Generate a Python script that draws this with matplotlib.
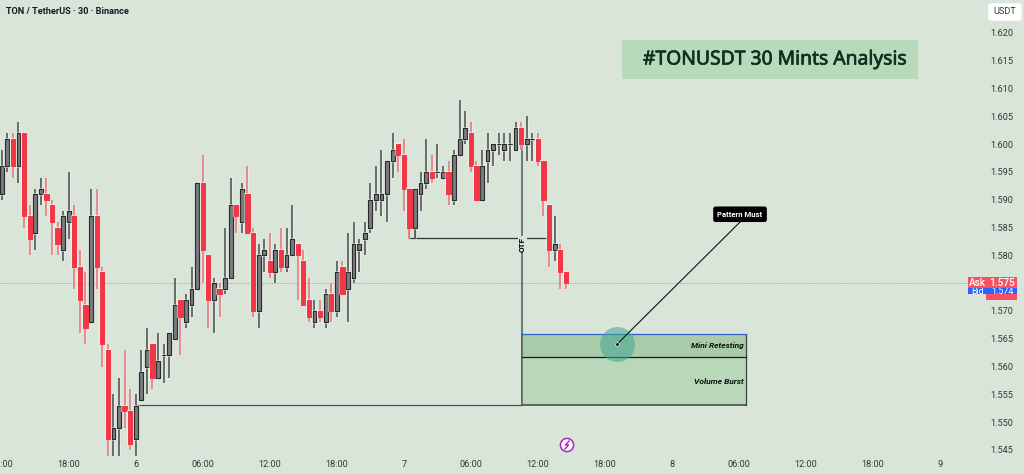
import matplotlib
matplotlib.use("Agg")
import matplotlib.pyplot as plt
import matplotlib.patheffects as pe
from matplotlib.lines import Line2D
from matplotlib.patches import Rectangle, Circle, FancyBboxPatch
import numpy as np

opens = [1.591, 1.596, 1.601, 1.596, 1.602, 1.587, 1.584, 1.591, 1.591, 1.589, 1.585, 1.581, 1.586, 1.587, 1.578, 1.571, 1.568,
         1.587, 1.577, 1.563, 1.547, 1.549, 1.553, 1.552, 1.547, 1.554, 1.560, 1.564, 1.558, 1.562, 1.562, 1.565, 1.572, 1.568,
         1.571, 1.574, 1.593, 1.580, 1.572, 1.574, 1.574, 1.576, 1.589, 1.586, 1.591, 1.584, 1.570, 1.580, 1.579, 1.577, 1.581,
         1.578, 1.580, 1.582, 1.579, 1.572, 1.568, 1.570, 1.568, 1.573, 1.570, 1.578, 1.574, 1.576, 1.581, 1.583, 1.585, 1.590,
         1.590, 1.591, 1.597, 1.600, 1.598, 1.592, 1.585, 1.591, 1.593, 1.595, 1.595, 1.594, 1.595, 1.590, 1.598, 1.601, 1.602,
         1.596, 1.590, 1.597, 1.599, 1.600, 1.599, 1.600, 1.599, 1.603, 1.600, 1.601, 1.601, 1.597, 1.589, 1.581, 1.581, 1.577]
highs = [1.599, 1.602, 1.602, 1.604, 1.602, 1.589, 1.592, 1.594, 1.594, 1.590, 1.586, 1.588, 1.595, 1.589, 1.581, 1.577, 1.592,
         1.592, 1.578, 1.564, 1.555, 1.558, 1.563, 1.556, 1.555, 1.563, 1.567, 1.564, 1.566, 1.564, 1.566, 1.576, 1.572, 1.573,
         1.578, 1.593, 1.598, 1.580, 1.576, 1.575, 1.585, 1.594, 1.589, 1.593, 1.596, 1.585, 1.582, 1.583, 1.584, 1.582, 1.585,
         1.585, 1.589, 1.582, 1.581, 1.576, 1.572, 1.572, 1.574, 1.575, 1.579, 1.579, 1.584, 1.586, 1.583, 1.586, 1.593, 1.596,
         1.599, 1.597, 1.602, 1.600, 1.601, 1.592, 1.592, 1.595, 1.601, 1.598, 1.600, 1.596, 1.597, 1.599, 1.608, 1.606, 1.604,
         1.597, 1.599, 1.602, 1.600, 1.602, 1.602, 1.602, 1.604, 1.604, 1.605, 1.602, 1.602, 1.597, 1.589, 1.587, 1.582, 1.577]
lows = [1.590, 1.595, 1.594, 1.593, 1.585, 1.580, 1.581, 1.589, 1.587, 1.580, 1.580, 1.579, 1.583, 1.574, 1.566, 1.564, 1.568,
        1.574, 1.560, 1.544, 1.544, 1.544, 1.549, 1.545, 1.544, 1.554, 1.555, 1.556, 1.558, 1.557, 1.558, 1.565, 1.562, 1.567,
        1.569, 1.574, 1.575, 1.567, 1.566, 1.569, 1.573, 1.576, 1.584, 1.584, 1.584, 1.569, 1.567, 1.577, 1.576, 1.575, 1.577,
        1.577, 1.580, 1.572, 1.571, 1.568, 1.567, 1.568, 1.567, 1.568, 1.569, 1.573, 1.568, 1.575, 1.577, 1.580, 1.584, 1.588,
        1.587, 1.586, 1.594, 1.595, 1.588, 1.583, 1.583, 1.588, 1.592, 1.593, 1.594, 1.594, 1.589, 1.589, 1.598, 1.600, 1.595,
        1.590, 1.590, 1.593, 1.596, 1.598, 1.597, 1.597, 1.599, 1.599, 1.597, 1.597, 1.596, 1.587, 1.578, 1.579, 1.574, 1.574]
closes = [1.596, 1.601, 1.596, 1.602, 1.587, 1.583, 1.591, 1.592, 1.590, 1.586, 1.582, 1.587, 1.588, 1.578, 1.572, 1.567, 1.587,
          1.578, 1.564, 1.547, 1.549, 1.553, 1.552, 1.546, 1.553, 1.559, 1.563, 1.558, 1.561, 1.562, 1.566, 1.571, 1.569, 1.572,
          1.574, 1.593, 1.581, 1.572, 1.575, 1.573, 1.576, 1.589, 1.587, 1.592, 1.584, 1.570, 1.580, 1.581, 1.577, 1.581, 1.578,
          1.580, 1.583, 1.580, 1.571, 1.569, 1.570, 1.569, 1.573, 1.570, 1.577, 1.573, 1.577, 1.582, 1.582, 1.584, 1.590, 1.591,
          1.591, 1.597, 1.599, 1.598, 1.592, 1.585, 1.592, 1.593, 1.595, 1.594, 1.595, 1.595, 1.591, 1.598, 1.601, 1.603, 1.596,
          1.590, 1.596, 1.599, 1.600, 1.600, 1.600, 1.600, 1.603, 1.600, 1.601, 1.601, 1.597, 1.590, 1.581, 1.582, 1.577, 1.575]

price_ticks = [1.545, 1.550, 1.555, 1.560, 1.565, 1.570, 1.575, 1.580, 1.585, 1.590, 1.595, 1.600, 1.605, 1.610, 1.615, 1.620]
time_pos = [0, 12, 24, 36, 48, 60, 72, 84, 96, 108, 120, 132, 144, 156, 168]
time_labels = ["12:00", "18:00", "6", "06:00", "12:00", "18:00", "7", "06:00", "12:00", "18:00", "8", "06:00", "12:00", "18:00", "9"]

zone_left, zone_right = 93.2, 133.3
zone_top, zone_mid, zone_bottom = 1.5659, 1.5617, 1.5531
neck_price = 1.5831
last_price = 1.575

BG = "#d9e5d9"
RED = "#f23645"
GREY = "#797b7f"
DARK = "#2b2b2b"
plt.rcParams["font.family"] = ["Roboto", "DejaVu Sans"]

W, H = 1024, 474
fig = plt.figure(figsize=(W / 100, H / 100), dpi=100, facecolor=BG)
ax = fig.add_axes([0, 16 / H, 968 / W, 458 / H], facecolor=BG)

# price/time <-> pixel scale
ax.set_xlim(-1.7 / 5.585, (968 - 1.7) / 5.585)
ax.set_ylim(1.620 - 425 / 5560, 1.620 + 33 / 5560)
for s in ax.spines.values():
    s.set_visible(False)

ax.yaxis.tick_right()
ax.set_yticks(price_ticks)
ax.set_yticklabels(["%.3f" % p for p in price_ticks], fontsize=6.6, color="#2f3a34")
ax.tick_params(axis="y", length=0, pad=16.2)
ax.set_xticks(time_pos)
ax.set_xticklabels(time_labels, fontsize=6.6, color="#2f3a34")
ax.tick_params(axis="x", length=0, pad=1.5)

# faint last price line
ax.axhline(last_price, color="#e58a92", lw=0.7, ls=(0, (1.5, 1.5)), zorder=1)

# zone
halo = [pe.withStroke(linewidth=2.2, foreground="#f2f7f2", alpha=0.8)]
ax.plot([24, zone_left], [zone_bottom, zone_bottom], color="#4a514c", lw=1.0, zorder=2, path_effects=halo)
ax.plot([zone_left, zone_left], [zone_bottom, 1.603], color="#6f7872", lw=1.4, zorder=2)
ax.add_patch(Rectangle((zone_left, zone_bottom), zone_right - zone_left, zone_mid - zone_bottom, fc="#b8d8b9", ec="none", zorder=3))
ax.add_patch(Rectangle((zone_left, zone_mid), zone_right - zone_left, zone_top - zone_mid, fc="#aacbaa", ec="none", zorder=3))
ax.plot([zone_left, zone_right], [zone_bottom, zone_bottom], color="#3c423e", lw=1.1, zorder=4)
ax.plot([zone_right, zone_right], [zone_bottom, zone_top], color="#3c423e", lw=0.9, zorder=4)
ax.plot([zone_left, zone_left], [zone_bottom, zone_top], color="#5a635d", lw=1.1, zorder=4)
ax.plot([zone_left, zone_right], [zone_top, zone_top], color="#2f63c8", lw=0.9, zorder=4)
ax.plot([zone_left, zone_right], [zone_mid, zone_mid], color="#0c1a3a", lw=0.9, zorder=4)
ax.plot([73, 98], [neck_price, neck_price], color="#2f3531", lw=0.9, zorder=3)
ax.plot([73, 73], [neck_price, 1.585], color="#2f3531", lw=0.9, zorder=3)
ax.plot([74, 74], [neck_price, 1.585], color="#2f3531", lw=0.9, zorder=3)
ax.text(zone_left, 1.58205, "OTF", rotation=90, ha="center", va="center", fontsize=5.9, fontweight="bold",
        color="black", zorder=4, bbox=dict(fc=BG, ec="none", pad=0.6))
ax.text(zone_right - 0.45, 1.5638, "Mini Retesting", ha="right", va="center", fontsize=6, style="italic",
        fontweight="bold", color="#111111", zorder=5)
ax.text(zone_right - 0.45, 1.5574, "Volume Burst", ha="right", va="center", fontsize=6, style="italic",
        fontweight="bold", color="#111111", zorder=5)

# candles
x = np.arange(len(opens))
o, h, l, c = map(np.array, (opens, highs, lows, closes))
up = c >= o
ax.vlines(x[up], l[up], h[up], color="#464a49", lw=1.1, zorder=5,
          path_effects=[pe.withStroke(linewidth=1.9, foreground="#f2f7f2", alpha=0.5)])
ax.vlines(x[~up], l[~up], h[~up], color="#ea6d78", lw=1.1, zorder=5,
          path_effects=[pe.withStroke(linewidth=1.9, foreground="#f2f7f2", alpha=0.5)])
ax.bar(x[up], (c - o)[up], bottom=o[up], width=0.68, color=GREY, edgecolor=DARK, linewidth=0.8, zorder=6,
       path_effects=[pe.withStroke(linewidth=2.0, foreground="#f2f7f2", alpha=0.6), pe.Normal()])
ax.bar(x[~up], (c - o)[~up], bottom=o[~up], width=0.76, color=RED, edgecolor=RED, linewidth=0.5, zorder=6,
       path_effects=[pe.withStroke(linewidth=1.6, foreground="#f2f7f2", alpha=0.6), pe.Normal()])

# pointer to the retest
ax.scatter([110.2], [1.56406], s=635, color="#3fa792", alpha=0.55, linewidths=0, zorder=7)
ax.plot([110.2, 132.2], [1.56406, 1.5860], color="#111111", lw=0.8, zorder=8)
ax.scatter([110.2], [1.56406], s=7, color="black", edgecolors="white", linewidths=0.5, zorder=9)
ax.text(132.2, 1.5874, "Pattern Must", ha="center", va="center", fontsize=5.6, fontweight="bold", color="white", zorder=10,
        bbox=dict(boxstyle="round,pad=0.55,rounding_size=0.3", fc="black", ec="none"))


def fx(px):
    return px / W


def fy(py):
    return 1 - py / H


def box(x0, y0, x1, y1, color):
    fig.add_artist(Rectangle((fx(x0), fy(y1)), fx(x1 - x0), (y1 - y0) / H, fc=color, ec="none", transform=fig.transFigure))


# title banner, the stroke thickens the regular weight
box(622, 40, 918, 79, "#b9d9bb")
fig.text(fx(643), fy(59.5), "#TONUSDT 30 Mints Analysis", fontsize=13.9, family=["Noto Sans", "DejaVu Sans"],
         color="#12301f", va="center", ha="left",
         path_effects=[pe.withStroke(linewidth=0.5, foreground="#12301f")])

fig.text(fx(6), fy(12), "TON / TetherUS \u00b7 30 \u00b7 Binance", fontsize=6.6, fontweight="bold", color="#131722", va="center")

# USDT chip
fig.add_artist(FancyBboxPatch((fx(989), fy(20)), fx(32), 16 / H, boxstyle="round,pad=0,rounding_size=0.003",
                              fc="white", ec="white", lw=1, transform=fig.transFigure))
fig.text(fx(1005), fy(12), "USDT", fontsize=6.6, color="#2f3a34", ha="center", va="center")

# ask/bid tags
box(968, 288, 986, 294, "#2962ff")
box(986, 277, 1017, 300, "#f7525f")
box(986, 288, 1017, 294, "#2962ff")
box(968, 277, 986, 288, "#f7525f")
fig.text(fx(977), fy(283), "Ask", fontsize=7.2, color="white", ha="center", va="center", fontweight="medium")
fig.text(fx(1002), fy(283), "1.575", fontsize=7.4, color="white", ha="center", va="center", fontweight="medium")
t = fig.text(fx(1002), fy(291.5), "1.574", fontsize=6.4, color="white", ha="center", va="center")
t.set_clip_path(Rectangle((986, H - 294), 31, 6, transform=None))
t = fig.text(fx(977), fy(291.5), "Bid", fontsize=6.4, color="white", ha="center", va="center")
t.set_clip_path(Rectangle((968, H - 294), 18, 6, transform=None))

# lightning badge
fig.add_artist(Circle((567, H - 445), 6.6, fc="white", ec="#a626c4", lw=1.1, transform=None))
fig.add_artist(Line2D([569, 565.5, 568.5, 565], [H - 441, H - 445, H - 445, H - 449], color="#a626c4", lw=1, transform=None))

fig.savefig("out.png", dpi=100, facecolor=BG)
